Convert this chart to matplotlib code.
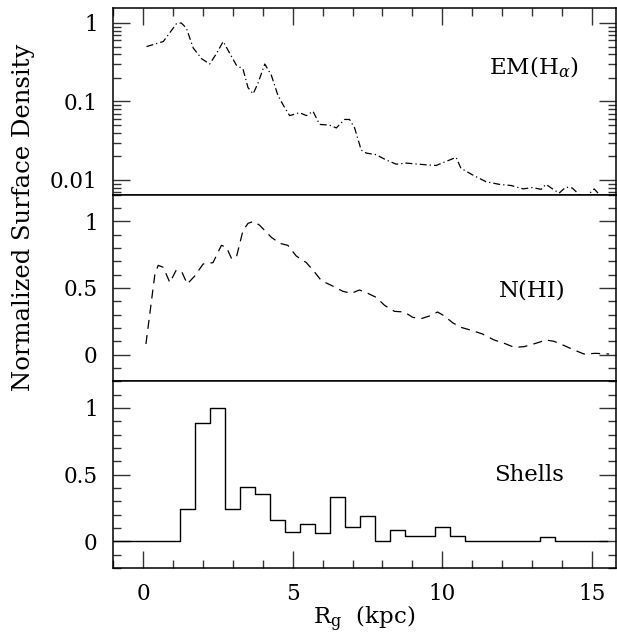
import numpy as np
import matplotlib
matplotlib.use("Agg")
import matplotlib.pyplot as plt
from matplotlib.ticker import MultipleLocator, LogLocator, FuncFormatter, NullFormatter

plt.rcParams['font.family'] = ['DejaVu Serif']
plt.rcParams['mathtext.fontset'] = 'dejavuserif'
plt.rcParams['lines.scale_dashes'] = False

# Galactocentric radius samples (kpc) and normalized profiles
r_em = [0.12, 0.68, 1.12, 1.28, 1.45, 1.68, 1.96, 2.23, 2.46, 2.68, 2.90, 3.12,
        3.34, 3.51, 3.68, 3.84, 4.07, 4.29, 4.51, 4.73, 4.90, 5.23, 5.46, 5.68,
        5.90, 6.23, 6.46, 6.73, 6.90, 7.07, 7.29, 7.46, 7.79, 8.12, 8.46, 8.79,
        9.12, 9.46, 9.79, 10.12, 10.46, 10.62, 11.01, 11.46, 11.90, 12.30, 12.70,
        13.00, 13.30, 13.46, 13.68, 13.90, 14.12, 14.34, 14.57, 14.79, 15.07, 15.30]
em_halpha = [0.50, 0.58, 0.98, 1.00, 0.86, 0.48, 0.35, 0.30, 0.41, 0.58, 0.41, 0.29,
             0.26, 0.15, 0.125, 0.17, 0.30, 0.215, 0.119, 0.084, 0.066, 0.072, 0.066, 0.075,
             0.051, 0.050, 0.046, 0.059, 0.059, 0.046, 0.024, 0.022, 0.021, 0.018, 0.0159, 0.0164,
             0.016, 0.0156, 0.0153, 0.0172, 0.0194, 0.0141, 0.0116, 0.0095, 0.0088, 0.0085, 0.0077,
             0.0080, 0.0076, 0.0088, 0.0077, 0.0068, 0.0081, 0.0079, 0.0065, 0.0060, 0.0077, 0.0062]

r_hi = [0.10, 0.40, 0.51, 0.68, 0.90, 1.10, 1.29, 1.48, 1.73, 2.01, 2.34, 2.62,
        2.79, 2.96, 3.12, 3.34, 3.51, 3.70, 3.90, 4.29, 4.57, 4.84, 5.12, 5.46,
        5.73, 5.96, 6.29, 6.68, 6.96, 7.23, 7.51, 7.79, 8.07, 8.40, 8.73, 9.01,
        9.29, 9.57, 9.84, 10.07, 10.34, 10.62, 11.01, 11.34, 11.73, 12.07, 12.40,
        12.73, 13.12, 13.46, 13.73, 14.07, 14.40, 14.73, 15.12, 15.57]
n_hi = [0.08, 0.605, 0.67, 0.655, 0.54, 0.63, 0.625, 0.53, 0.59, 0.68, 0.69, 0.82,
        0.805, 0.72, 0.73, 0.93, 0.985, 1.00, 0.97, 0.88, 0.835, 0.82, 0.74, 0.69,
        0.62, 0.555, 0.52, 0.475, 0.46, 0.485, 0.46, 0.43, 0.37, 0.325, 0.32, 0.28,
        0.27, 0.29, 0.32, 0.29, 0.24, 0.205, 0.18, 0.155, 0.11, 0.085, 0.055,
        0.06, 0.085, 0.11, 0.10, 0.068, 0.035, 0.005, 0.01, 0.005]

# Shell counts in 0.5 kpc bins (bin centres)
shell_r = [-1.0, -0.5, 0.0, 0.5, 1.0, 1.5, 2.0, 2.5, 3.0, 3.5, 4.0, 4.5, 5.0, 5.5,
           6.0, 6.5, 7.0, 7.5, 8.0, 8.5, 9.0, 9.5, 10.0, 10.5, 11.0, 11.5, 12.0,
           12.5, 13.0, 13.5, 14.0, 14.5, 15.0, 15.5]
shells = [0, 0, 0, 0, 0, 0.24, 0.89, 1.00, 0.24, 0.41, 0.355, 0.16, 0.073, 0.13,
          0.06, 0.33, 0.105, 0.19, 0, 0.085, 0.043, 0.04, 0.11, 0.0375, 0, 0, 0,
          0, 0, 0.03, 0, 0, 0, 0]

x_lo, x_hi = -1.0, 15.8

fig = plt.figure(figsize=(6.17, 6.35), dpi=100)
left, right = 113 / 617, 616 / 617
bottom, top = 1 - 568 / 635, 1 - 8 / 635
h = (top - bottom) / 3
axes = [fig.add_axes([left, bottom + (2 - i) * h, right - left, h]) for i in range(3)]
ax_em, ax_hi, ax_sh = axes

fmt = FuncFormatter(lambda v, p: '%g' % v)
tick_fs = 15.5
label_fs = 16.5

for ax in axes:
    ax.set_xlim(x_lo, x_hi)
    ax.xaxis.set_major_locator(MultipleLocator(5))
    ax.xaxis.set_minor_locator(MultipleLocator(1))
    ax.tick_params(which='both', direction='in', left=True, right=True,
                   top=False, bottom=False, labelbottom=False, labelsize=tick_fs,
                   width=1.0, color='#333333')
    ax.tick_params(which='major', length=12)
    ax.tick_params(which='minor', length=6)
    ax.tick_params(axis='y', which='major', pad=11)
    ax.tick_params(axis='x', which='major', pad=11)
    for s in ax.spines.values():
        s.set_linewidth(1.1)

# Top panel: emission measure, log scale
ax_em.plot(r_em, em_halpha, color='black', lw=0.9, linestyle=(0, (5, 2.2, 0.9, 2.2)))
ax_em.set_yscale('log')
ax_em.set_ylim(0.0065, 1.55)
ax_em.yaxis.set_major_locator(LogLocator(base=10, numticks=10))
ax_em.yaxis.set_minor_locator(LogLocator(base=10, subs=np.arange(2, 10), numticks=20))
ax_em.yaxis.set_major_formatter(fmt)
ax_em.yaxis.set_minor_formatter(NullFormatter())
ax_em.tick_params(axis='x', which='both', top=True)
ax_em.text(11.55, 0.27, r'EM(H$_{\alpha}$)', fontsize=label_fs, va='center', ha='left')

# Middle panel: HI column density
ax_hi.plot(r_hi, n_hi, color='black', lw=0.9, linestyle=(0, (6.5, 4.5)))
ax_hi.text(11.9, 0.48, 'N(HI)', fontsize=label_fs, va='center', ha='left')

# Bottom panel: shell histogram
ax_sh.step(shell_r, shells, where='mid', color='black', lw=1.0)
ax_sh.text(11.73, 0.495, 'Shells', fontsize=label_fs, va='center', ha='left')
ax_sh.tick_params(axis='x', which='both', bottom=True, labelbottom=True)
ax_sh.xaxis.set_major_formatter(fmt)
ax_sh.set_xlabel(r'R$_{\mathrm{g}}$  (kpc)', fontsize=label_fs)
ax_sh.xaxis.set_label_coords(0.5, -0.195)

for ax in (ax_hi, ax_sh):
    ax.set_ylim(-0.2, 1.2)
    ax.yaxis.set_major_locator(MultipleLocator(0.5))
    ax.yaxis.set_minor_locator(MultipleLocator(0.1))
    ax.yaxis.set_major_formatter(fmt)

fig.text(24 / 617, 1 - 217 / 635, 'Normalized Surface Density', rotation=90,
         fontsize=17.5, va='center', ha='center')

fig.savefig('out.png', dpi=100)
